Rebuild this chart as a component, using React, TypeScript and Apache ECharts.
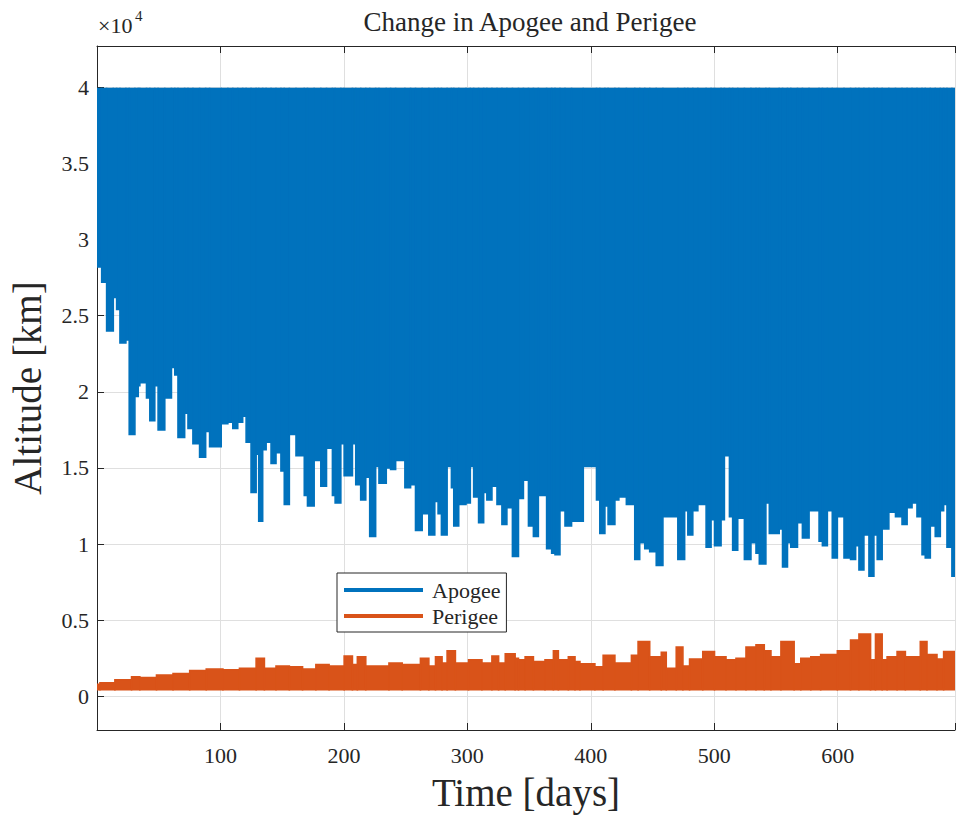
import React, { useEffect, useRef } from "react";
import * as echarts from "echarts";

// ---- data ----
// Apogee: the orbit-by-orbit oscillation fills a band from APOGEE_HIGH_KM down to a stepwise lower envelope
const APOGEE_HIGH_KM = 39900;
const apogeeLowDay = [
  0, 3.8, 7.8, 13.2, 15.9, 18.6, 23.4, 26.1, 30.7, 33.4, 34.7, 40.1, 42.8, 46.8, 49.5, 54.9, 60.3, 63, 65.6, 71,
  73.7, 77.7, 83.1, 88, 91.2, 100.6, 106, 110, 114, 118, 120.8, 124.8, 128.9, 131, 134.2, 137, 141, 145, 149, 151.7,
  155.8, 161.2, 167.9, 170.5, 175.9, 181.3, 185.9, 190.7, 192.9, 197.5, 200.2, 206.9, 209.6, 213.6, 217.7, 220.9,
  225.7, 228.4, 234.3, 237.8, 241.9, 249.4, 254, 258, 263.4, 268.8, 273.6, 276.3, 279, 283.6, 287.1, 289, 293,
  298.9, 302.4, 305.1, 309.1, 313.2, 315.8, 319.9, 324, 328, 332, 336.5, 341.4, 345.4, 349.5, 353.5, 357.5, 364.2,
  368.3, 371, 375, 379.1, 384.4, 393.9, 404.6, 407.3, 411.4, 414, 419.5, 422.7, 428.8, 435.6, 439.6, 443.7, 447.7,
  453, 458.4, 470.5, 476, 478.6, 482.6, 486.7, 493.4, 497.4, 500.2, 505.5, 508.2, 512.3, 514.9, 519, 524.4, 529.7,
  533.8, 536.5, 541.8, 544.6, 552.6, 555.3, 559.3, 562, 567.4, 571.4, 576.8, 584.9, 587.6, 591.6, 595.6, 599.7,
  605.1, 610.4, 614.5, 617.2, 621.2, 625.3, 629.3, 632, 636, 641.4, 646.8, 652.1, 656.2, 660.2, 664.2, 668.3, 670.9,
  675, 679, 683.1, 685.8, 688.5, 692.5, 695,
];
const apogeeLowKm = [
  28200, 27200, 24000, 26200, 25400, 23200, 23400, 17200, 19700, 20400, 20600, 19600, 18100, 20400, 17500, 19600,
  21600, 21100, 17000, 18600, 17600, 16600, 15700, 17400, 16400, 17900, 18000, 17600, 18000, 18400, 16700, 13400,
  15900, 11500, 16200, 16700, 15300, 16000, 14800, 12600, 17200, 15800, 13200, 12500, 15500, 13800, 16300, 13200,
  12700, 16600, 14500, 16600, 13900, 12900, 14400, 10500, 15100, 14000, 15000, 14900, 15500, 13700, 13900, 10900,
  12000, 10600, 12800, 12000, 10600, 15100, 13700, 11200, 12600, 12700, 15100, 13100, 11400, 13400, 12900, 13800,
  12600, 11300, 12400, 9200, 13000, 14200, 11200, 10500, 13200, 9700, 9400, 9300, 12200, 11200, 11500, 15100,
  12900, 10700, 12500, 11300, 12900, 13100, 12600, 9000, 10100, 9700, 9500, 8600, 11800, 9000, 12200, 10600, 12200,
  12600, 9800, 11600, 9900, 11600, 15800, 11800, 9600, 11700, 9000, 10100, 9400, 8700, 12700, 10700, 11000, 8500,
  10100, 9800, 11400, 10400, 12200, 10200, 9900, 12200, 9100, 11800, 9100, 9000, 9900, 8300, 10600, 7900, 10600,
  9000, 11000, 12100, 11800, 11300, 12400, 12700, 11800, 9300, 9100, 11200, 10500, 12200, 12600, 9800, 7900, 7900,
];

// Perigee: band from PERIGEE_LOW_KM up to a stepwise upper envelope
const PERIGEE_LOW_KM = 450;
const perigeeHighDay = [
  0, 2.4, 14.5, 28, 34.7, 48.2, 61.6, 75.1, 88.5, 102, 115.4, 128.9, 135.6, 145, 155.8, 166.5, 177.3, 188, 200.2,
  206.9, 210.9, 217.7, 236.5, 247.2, 262, 268.8, 274.2, 279.5, 283.6, 290.3, 301, 311.8, 319.9, 325.3, 330.7, 338.7,
  341.4, 346.8, 353.5, 362.9, 369.7, 373.7, 381.8, 387.2, 391.2, 403.3, 410, 419.5, 432.9, 438.3, 447.7, 457.1,
  461.1, 469.2, 474.6, 480, 490.7, 500.2, 509.5, 517.6, 525.7, 533.8, 540.5, 545.9, 554, 564.7, 570.1, 578.2,
  586.2, 599.7, 610.4, 617.2, 626.6, 630.6, 636, 640, 648.1, 654.8, 666.9, 672.3, 680.4, 685.8, 695,
];
const perigeeHighKm = [
  800, 900, 1100, 1300, 1250, 1400, 1500, 1700, 1800, 1750, 1850, 2500, 1850, 2000, 1950, 1800, 2100, 2000, 2650,
  2100, 2600, 2000, 2200, 2100, 2500, 2000, 2600, 2200, 3000, 2200, 2400, 2200, 2650, 2200, 2800, 2500, 2400,
  2600, 2300, 2400, 3000, 2400, 2600, 2300, 2150, 1950, 2700, 2200, 2700, 3600, 2600, 2900, 1850, 3250, 2000,
  2450, 2950, 2600, 2400, 2500, 3250, 3400, 3000, 2600, 3600, 2150, 2500, 2600, 2750, 3000, 3700, 4100, 2400,
  4100, 2400, 2600, 2950, 2600, 3600, 2750, 2450, 2950, 2950,
];

const yTickValues = [0, 5000, 10000, 15000, 20000, 25000, 30000, 35000, 40000];
const X_MIN = 0;
const X_MAX = 695;
const Y_MIN = -2200;
const Y_MAX = 42700;

const BLUE = "#0072BD";
const ORANGE = "#D95319";
const INK = "#262626";
const FONT = "'Liberation Serif', 'DejaVu Serif', serif";

// each segment: [dayStart, dayEnd, lowKm, highKm]
function segments(days: number[], lows: number[], highs: number[]) {
  const out: number[][] = [];
  for (let i = 0; i < days.length - 1; i++) {
    out.push([days[i], days[i + 1], lows[i], highs[i]]);
  }
  return out;
}

function bandRenderer(color: string) {
  return (params: any, api: any) => {
    const x0 = api.value(0);
    const x1 = api.value(1);
    const lo = api.value(2);
    const hi = api.value(3);
    const pLo = api.coord([x0, lo]);
    const pHi = api.coord([x1, hi]);
    return {
      type: "rect",
      shape: {
        x: pLo[0],
        y: pHi[1],
        width: pHi[0] - pLo[0],
        height: pLo[1] - pHi[1],
      },
      style: { fill: color, stroke: color, lineWidth: 1.6 },
    };
  };
}

export default function App() {
  const ref = useRef<HTMLDivElement>(null);

  useEffect(() => {
    if (!ref.current) return;
    const chart = echarts.init(ref.current, null, { renderer: "svg" });

    const apogeeSegs = segments(
      apogeeLowDay,
      apogeeLowKm,
      apogeeLowDay.map(() => APOGEE_HIGH_KM)
    );
    const perigeeSegs = segments(
      perigeeHighDay,
      perigeeHighDay.map(() => PERIGEE_LOW_KM),
      perigeeHighKm
    );

    const xCommon = {
      type: "value" as const,
      min: X_MIN,
      max: X_MAX,
      interval: 100,
    };

    chart.setOption({
      animation: false,
      backgroundColor: "#ffffff",
      grid: { left: 97, right: 0, top: 46, bottom: 88, containLabel: false },
      graphic: [
        {
          type: "text",
          x: 530,
          y: 22,
          style: {
            text: "Change in Apogee and Perigee",
            font: `27px ${FONT}`,
            fill: INK,
            textAlign: "center",
            textVerticalAlign: "middle",
          },
        },
        {
          type: "text",
          x: 98,
          y: 25,
          style: {
            text: "×10",
            font: `22px ${FONT}`,
            fill: INK,
            textAlign: "left",
            textVerticalAlign: "middle",
          },
        },
        {
          type: "text",
          x: 135,
          y: 16,
          style: {
            text: "4",
            font: `15px ${FONT}`,
            fill: INK,
            textAlign: "left",
            textVerticalAlign: "middle",
          },
        },
      ],
      legend: {
        data: ["Apogee", "Perigee"],
        orient: "vertical",
        left: 337,
        top: 573,
        padding: [6, 6, 5, 7],
        itemGap: 4,
        itemWidth: 79,
        itemHeight: 4,
        icon: "rect",
        backgroundColor: "#ffffff",
        borderColor: INK,
        borderWidth: 1,
        borderRadius: 0,
        textStyle: { fontFamily: FONT, fontSize: 22, color: INK, padding: [0, 0, 0, 4] },
        selectedMode: false,
      },
      xAxis: [
        {
          ...xCommon,
          position: "bottom",
          name: "Time [days]",
          nameLocation: "middle",
          nameGap: 43,
          nameTextStyle: { fontFamily: FONT, fontSize: 39, color: INK },
          axisLine: { show: true, onZero: false, lineStyle: { color: INK, width: 1 } },
          axisTick: { show: true, inside: true, length: 7, lineStyle: { color: INK } },
          axisLabel: {
            margin: 14,
            fontFamily: FONT,
            fontSize: 22,
            color: INK,
            formatter: (v: number) => (v > 0 && v % 100 === 0 ? String(v) : ""),
          },
          splitLine: { show: true, lineStyle: { color: "#dfdfdf", width: 1 } },
        },
        {
          ...xCommon,
          position: "top",
          axisLine: { show: true, onZero: false, lineStyle: { color: INK, width: 1 } },
          axisTick: { show: true, inside: true, length: 7, lineStyle: { color: INK } },
          axisLabel: { show: false },
          splitLine: { show: false },
        },
      ],
      yAxis: {
        type: "value",
        min: Y_MIN,
        max: Y_MAX,
        name: "Altitude [km]",
        nameLocation: "middle",
        nameGap: 50,
        nameTextStyle: { fontFamily: FONT, fontSize: 39, color: INK },
        axisLine: { show: true, onZero: false, lineStyle: { color: INK, width: 1 } },
        axisTick: {
          show: true,
          inside: true,
          length: 7,
          lineStyle: { color: INK },
          customValues: yTickValues,
        },
        axisLabel: {
          margin: 8,
          fontFamily: FONT,
          fontSize: 22,
          color: INK,
          customValues: yTickValues,
          formatter: (v: number) => String(v / 10000),
        },
        splitLine: { show: true, lineStyle: { color: "#dfdfdf", width: 1 } },
      },
      series: [
        {
          type: "custom",
          name: "Apogee",
          xAxisIndex: 0,
          yAxisIndex: 0,
          data: apogeeSegs,
          encode: { x: [0, 1], y: [2, 3] },
          renderItem: bandRenderer(BLUE),
          itemStyle: { color: BLUE },
          clip: true,
          silent: true,
        },
        {
          type: "custom",
          name: "Perigee",
          xAxisIndex: 0,
          yAxisIndex: 0,
          data: perigeeSegs,
          encode: { x: [0, 1], y: [2, 3] },
          renderItem: bandRenderer(ORANGE),
          itemStyle: { color: ORANGE },
          clip: true,
          silent: true,
        },
      ],
    });

    return () => chart.dispose();
  }, []);

  return (
    <div
      ref={ref}
      style={{ position: "fixed", left: 0, top: 0, width: 958, height: 818, background: "#fff" }}
    />
  );
}
